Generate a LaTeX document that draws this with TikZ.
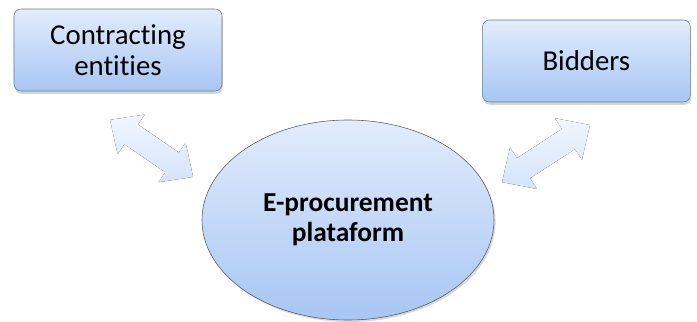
\documentclass[tikz,border=0pt]{standalone}
\usepackage{fontspec}
\setmainfont{Carlito}[Ligatures=NoCommon]
\usepackage{xcolor}
\usepackage{tikz}
\usetikzlibrary{shapes.geometric,shadows}

\definecolor{boxtop}{HTML}{E2ECFC}
\definecolor{boxbottom}{HTML}{A7C6F4}
\definecolor{boxline}{HTML}{6F7D93}
\definecolor{arrowtop}{HTML}{F1F6FE}
\definecolor{arrowbottom}{HTML}{D5E3FA}

\tikzset{
    party/.style={draw=boxline, rounded corners=5pt, top color=boxtop, bottom color=boxbottom,
        minimum width=5.2cm, minimum height=2.05cm, align=center,
        font=\fontsize{20.5}{22}\selectfont,
        drop shadow={shadow xshift=0.02cm, shadow yshift=-0.07cm, opacity=0.35}},
    platform/.style={ellipse, draw=black!65, top color=boxtop, bottom color=boxbottom,
        minimum width=7.3cm, minimum height=5cm, align=center,
        font=\bfseries\fontsize{19.5}{21.5}\selectfont,
        drop shadow={shadow xshift=0.04cm, shadow yshift=-0.05cm, opacity=0.3}},
    twoway/.style={top color=arrowtop, bottom color=arrowbottom}
}

\begin{document}
\begin{tikzpicture}
    \useasboundingbox (0,0) rectangle (17.425,8.05);

    % Both parties
    \node[party] (contracting) at (2.95,6.8) {Contracting\\entities};
    \node[party] (bidders) at (14.66,6.525) {Bidders};

    % Platform in the middle
    \node[platform] (plataform) at (8.7,2.55) {E-procurement\\plataform};

    % Left double arrow
    \begin{scope}[shift={(3.79,4.34)}, rotate=-34.5]
        \fill[twoway] (-1.26,0) -- (-0.62,0.6) -- (-0.62,0.3) -- (0.62,0.3) -- (0.62,0.6)
            -- (1.26,0) -- (0.62,-0.6) -- (0.62,-0.3) -- (-0.62,-0.3) -- (-0.62,-0.6) -- cycle;
    \end{scope}

    % Right double arrow
    \begin{scope}[shift={(13.65,4.21)}, rotate=33]
        \fill[twoway] (-1.31,0) -- (-0.67,0.62) -- (-0.67,0.3) -- (0.67,0.3) -- (0.67,0.62)
            -- (1.31,0) -- (0.67,-0.62) -- (0.67,-0.3) -- (-0.67,-0.3) -- (-0.67,-0.62) -- cycle;
    \end{scope}
\end{tikzpicture}
\end{document}
